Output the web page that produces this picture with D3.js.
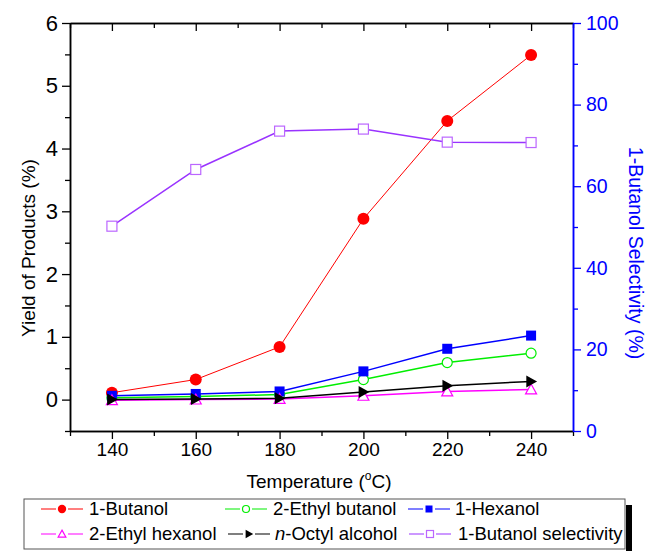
<!DOCTYPE html>
<html>
<head>
<meta charset="utf-8">
<script src="https://cdn.jsdelivr.net/npm/d3@7"></script>
<style>
body { margin: 0; background: #fff; }
text { font-family: "Liberation Sans", Arial, sans-serif; }
</style>
</head>
<body>
<script>
// temperatures (C)
var temps = [140, 160, 180, 200, 220, 240];

// yields of products (%)
var butanol = [0.11, 0.32, 0.84, 2.88, 4.44, 5.49];
var ethylButanol = [0.03, 0.05, 0.08, 0.32, 0.59, 0.74];
var hexanol = [0.06, 0.09, 0.13, 0.45, 0.81, 1.02];
var ethylHexanol = [-0.01, 0.0, 0.01, 0.06, 0.13, 0.16];
var octyl = [0.0, 0.01, 0.02, 0.12, 0.22, 0.29];

// 1-butanol selectivity (%), right axis
var selectivity = [50.2, 64.1, 73.5, 74.0, 70.8, 70.7];

var xMajor = [140, 160, 180, 200, 220, 240];
var xMinor = [130, 150, 170, 190, 210, 230, 250];
var yMajor = [0, 1, 2, 3, 4, 5, 6];
var yMinor = [-0.5, 0.5, 1.5, 2.5, 3.5, 4.5, 5.5];
var y2Major = [0, 20, 40, 60, 80, 100];
var y2Minor = [10, 30, 50, 70, 90];

var width = 647, height = 551;

var svg = d3.select("body").append("svg")
    .attr("width", width)
    .attr("height", height);

var x = d3.scaleLinear().domain([130, 250]).range([70, 573]);
var y = d3.scaleLinear().domain([-0.5, 6]).range([431, 23]);
var y2 = d3.scaleLinear().domain([0, 100]).range([431, 23]);

var series = [
    {name: "1-Butanol", vals: butanol, color: "#ff0000", lw: 1, marker: "dot", axis: y},
    {name: "2-Ethyl butanol", vals: ethylButanol, color: "#00ee00", lw: 1.5, marker: "ocircle", axis: y},
    {name: "1-Hexanol", vals: hexanol, color: "#0000ff", lw: 1.5, marker: "square", axis: y},
    {name: "2-Ethyl hexanol", vals: ethylHexanol, color: "#ff00ff", lw: 1.5, marker: "otri", axis: y},
    {name: "n-Octyl alcohol", vals: octyl, color: "#000000", lw: 1.5, marker: "rtri", axis: y},
    {name: "1-Butanol selectivity", vals: selectivity, color: "#9933ff", lw: 1.5, marker: "osquare", axis: y2}
];

function styleAxis(g, color, fs) {
    g.select(".domain").attr("stroke", color).attr("stroke-width", 1.5);
    g.selectAll(".tick line").attr("stroke", color).attr("stroke-width", 1.3);
    g.selectAll(".tick text")
        .attr("fill", color)
        .style("font-size", (fs || 19) + "px")
        .style("font-family", '"Liberation Sans", Arial, sans-serif');
}

var fmt = d3.format("d");

// bottom axis
var gb = svg.append("g").attr("transform", "translate(0,431)")
    .call(d3.axisBottom(x).tickValues(xMajor).tickSize(8).tickSizeOuter(0).tickPadding(4).tickFormat(fmt));
styleAxis(gb, "#000", 19);
var gbm = svg.append("g").attr("transform", "translate(0,431)")
    .call(d3.axisBottom(x).tickValues(xMinor).tickSize(5).tickSizeOuter(0).tickFormat(""));
styleAxis(gbm, "#000");

// top axis, ticks inward
var gt = svg.append("g").attr("transform", "translate(0,23)")
    .call(d3.axisTop(x).tickValues(xMajor).tickSize(-8).tickSizeOuter(0).tickFormat(""));
styleAxis(gt, "#000");
var gtm = svg.append("g").attr("transform", "translate(0,23)")
    .call(d3.axisTop(x).tickValues(xMinor).tickSize(-5).tickSizeOuter(0).tickFormat(""));
styleAxis(gtm, "#000");

// left axis
var gl = svg.append("g").attr("transform", "translate(70,0)")
    .call(d3.axisLeft(y).tickValues(yMajor).tickSize(8).tickSizeOuter(0).tickPadding(4).tickFormat(fmt));
styleAxis(gl, "#000", 22);
var glm = svg.append("g").attr("transform", "translate(70,0)")
    .call(d3.axisLeft(y).tickValues(yMinor).tickSize(5).tickSizeOuter(0).tickFormat(""));
styleAxis(glm, "#000");

// right axis (blue)
var gr = svg.append("g").attr("transform", "translate(573,0)")
    .call(d3.axisRight(y2).tickValues(y2Major).tickSize(8).tickSizeOuter(0).tickPadding(5).tickFormat(fmt));
styleAxis(gr, "#0000ff", 19.5);
var grm = svg.append("g").attr("transform", "translate(573,0)")
    .call(d3.axisRight(y2).tickValues(y2Minor).tickSize(5).tickSizeOuter(0).tickFormat(""));
styleAxis(grm, "#0000ff");

// axis titles
svg.append("text")
    .attr("transform", "translate(35,248) rotate(-90)")
    .attr("text-anchor", "middle")
    .style("font-size", "19px")
    .text("Yield of Products (%)");

svg.append("text")
    .attr("transform", "translate(629,253) rotate(90)")
    .attr("text-anchor", "middle")
    .attr("fill", "#0000ff")
    .style("font-size", "19.5px")
    .text("1-Butanol Selectivity (%)");

var xt = svg.append("text")
    .attr("x", 319).attr("y", 488)
    .attr("text-anchor", "middle")
    .style("font-size", "19px");
xt.append("tspan").text("Temperature (");
xt.append("tspan").attr("dy", -8).style("font-size", "12px").text("o");
xt.append("tspan").attr("dy", 8).text("C)");

function drawMarker(g, type, color, s) {
    if (type == "dot") {
        g.append("circle").attr("r", s * 0.6).attr("fill", color);
    } else if (type == "ocircle") {
        g.append("circle").attr("r", s * 0.5).attr("fill", "#fff").attr("stroke", color).attr("stroke-width", 1.2);
    } else if (type == "square") {
        g.append("rect").attr("x", -s / 2).attr("y", -s / 2).attr("width", s).attr("height", s).attr("fill", color);
    } else if (type == "osquare") {
        g.append("rect").attr("x", -s / 2).attr("y", -s / 2).attr("width", s).attr("height", s)
            .attr("fill", "#fff").attr("stroke", "#bb66ff").attr("stroke-width", 1.2);
    } else if (type == "otri") {
        var h = s * 0.55;
        g.append("path").attr("d", "M0," + (-h) + "L" + h + "," + (h * 0.8) + "L" + (-h) + "," + (h * 0.8) + "Z")
            .attr("fill", "#fff").attr("stroke", color).attr("stroke-width", 1.2);
    } else if (type == "rtri") {
        var h2 = s * 0.6;
        g.append("path").attr("d", "M" + h2 + ",0L" + (-h2 * 0.8) + "," + (-h2) + "L" + (-h2 * 0.8) + "," + h2 + "Z")
            .attr("fill", color);
    }
}

// series
series.forEach(function(sr) {
    var pts = temps.map(function(t, i) { return [x(t), sr.axis(sr.vals[i])]; });
    svg.append("path")
        .attr("d", d3.line()(pts))
        .attr("fill", "none")
        .attr("stroke", sr.color)
        .attr("stroke-width", sr.lw);
    pts.forEach(function(p) {
        var g = svg.append("g").attr("transform", "translate(" + p[0] + "," + p[1] + ")");
        drawMarker(g, sr.marker, sr.color, 10);
    });
});

// legend
var lg = svg.append("g");
lg.append("rect").attr("x", 626).attr("y", 505).attr("width", 6).attr("height", 46).attr("fill", "#000");
lg.append("rect").attr("x", 24).attr("y", 499).attr("width", 601).attr("height", 50)
    .attr("fill", "#fff").attr("stroke", "#555").attr("stroke-width", 1);

var legendPos = [
    {lx: 41, tx: 89, ty: 509},
    {lx: 225, tx: 273, ty: 509},
    {lx: 408, tx: 455, ty: 509},
    {lx: 41, tx: 89, ty: 534},
    {lx: 228, tx: 275, ty: 534},
    {lx: 409, tx: 458, ty: 534}
];

series.forEach(function(sr, i) {
    var p = legendPos[i];
    lg.append("line").attr("x1", p.lx).attr("x2", p.lx + 42)
        .attr("y1", p.ty).attr("y2", p.ty)
        .attr("stroke", sr.color).attr("stroke-width", 1.2);
    var g = lg.append("g").attr("transform", "translate(" + (p.lx + 21) + "," + p.ty + ")");
    g.append("rect").attr("x", -6).attr("y", -6).attr("width", 12).attr("height", 12).attr("fill", "#fff");
    drawMarker(g, sr.marker, sr.color, 7);
    var t = lg.append("text").attr("x", p.tx).attr("y", p.ty + 6).style("font-size", "18.5px");
    if (sr.name.indexOf("n-") == 0) {
        t.append("tspan").style("font-style", "italic").text("n");
        t.append("tspan").text(sr.name.slice(1));
    } else {
        t.text(sr.name);
    }
});
</script>
</body>
</html>
